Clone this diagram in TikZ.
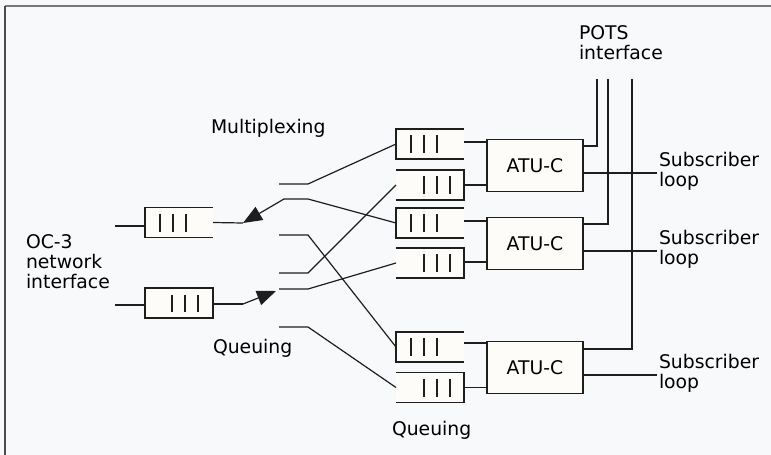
\documentclass[tikz,border=0pt]{standalone}
\usepackage{fontspec}
\setmainfont{DejaVu Sans}
\usetikzlibrary{arrows.meta}
\definecolor{bgc}{RGB}{248,249,251}
\definecolor{boxc}{RGB}{253,252,248}
\definecolor{inkc}{RGB}{30,30,30}
\definecolor{framec}{RGB}{120,120,120}
\tikzset{
  wire/.style={draw=inkc, line width=1.2pt},
  edgeln/.style={draw=inkc, line width=1.4pt},
  qfill/.style={fill=boxc, draw=none, minimum width=68pt, minimum height=30pt, inner sep=0pt, outer sep=0pt},
  atubox/.style={fill=boxc, draw=inkc, line width=1.4pt, minimum width=96pt, minimum height=52pt, inner sep=0pt, font=\lbl},
  lbl/.style={inner sep=0pt, outer sep=0pt, font=\lbl, align=left},
  arr/.style={-{Triangle[length=19pt,width=15pt]}},
}
\newcommand{\lbl}{\fontsize{18.8}{20}\selectfont}
% queue closed at left, bars at left
\newcommand{\qclosedleft}[1]{%
  \draw[edgeln] (#1.north east) -- (#1.north west) -- (#1.south west) -- (#1.south east);
  \foreach \dx in {15,28,41} \draw[edgeln] ([xshift=\dx pt, yshift=-6pt]#1.north west) -- ([xshift=\dx pt, yshift=6pt]#1.south west);
}
% queue closed at right, bars at right
\newcommand{\qclosedright}[1]{%
  \draw[edgeln] (#1.north west) -- (#1.north east) -- (#1.south east) -- (#1.south west);
  \foreach \dx in {14,27,40} \draw[edgeln] ([xshift=-\dx pt, yshift=-6pt]#1.north east) -- ([xshift=-\dx pt, yshift=6pt]#1.south east);
}
\begin{document}
\begin{tikzpicture}[x=1pt, y=-1pt]
\fill[bgc] (0,0) rectangle (771,455);
\useasboundingbox (0,0) rectangle (771,455);
% frame
\draw[framec, line width=2pt] (5,6) -- (771,6);
\draw[inkc!80, line width=1.4pt] (5,6) -- (5,455);

% left queues
\node[qfill] (ql1) at (179,222.5) {};
\node[qfill] (ql2) at (179,303) {};
\qclosedleft{ql1}
\draw[edgeln] (ql2.north west) rectangle (ql2.south east);
\foreach \dx in {15,28,41} \draw[edgeln] ([xshift=-\dx pt, yshift=-7pt]ql2.north east) -- ([xshift=-\dx pt, yshift=6pt]ql2.south east);

% right queues
\node[qfill] (qa) at (430,144) {};
\node[qfill] (qb) at (430,185) {};
\node[qfill] (qc) at (430,223) {};
\node[qfill] (qd) at (430,263) {};
\node[qfill] (qe) at (430,347) {};
\node[qfill] (qf) at (430,387.5) {};
\qclosedleft{qa}
\qclosedright{qb}
\qclosedleft{qc}
\qclosedright{qd}
\qclosedleft{qe}
\qclosedright{qf}

% ATU-C boxes
\node[atubox] (atu1) at (535,165.5) {ATU-C};
\node[atubox] (atu2) at (535,243.5) {ATU-C};
\node[atubox] (atu3) at (535,367.5) {ATU-C};

% OC-3 inputs
\coordinate (in1) at (115,226);
\coordinate (in2) at (115,305);
\draw[wire] (in1) -- (in1 -| ql1.west);
\draw[wire] (in2) -- (in2 -| ql2.west);

% multiplexer
\coordinate (o1) at (243,223);
\coordinate (o2) at (243,304);
\coordinate (tip2) at (276,291);
\draw[wire] (ql1.east) -- (o1);
\draw[wire, arr] (qc.west) -- (308,199) -- (284,199) -- (o1);
\draw[wire] (ql2.east |- o2) -- (o2);
\draw[wire, arr] (o2) -- (tip2);
\coordinate (m1) at (279,184);
\coordinate (m3) at (279,235);
\coordinate (m4) at (279,273);
\coordinate (m5) at (279,289);
\coordinate (m6) at (279,327);
\draw[wire] (m1) -- (308,184) -- (qa.west);
\draw[wire] (m3) -- (308,235) -- (qe.west);
\draw[wire] (m4) -- (308,273) -- (qb.west);
\draw[wire] (m5) -- (308,289) -- (qd.west);
\draw[wire] (m6) -- (308,327) -- (qf.west);

% queues to ATU-C
\draw[wire] ([yshift=2pt]qa.east) -- ([yshift=2pt]qa.east -| atu1.west);
\draw[wire] (qb.east) -- (qb.east -| atu1.west);
\draw[wire] ([yshift=2pt]qc.east) -- ([yshift=2pt]qc.east -| atu2.west);
\draw[wire] ([yshift=1pt]qd.east) -- ([yshift=1pt]qd.east -| atu2.west);
\draw[wire] ([yshift=4pt]qe.east) -- ([yshift=4pt]qe.east -| atu3.west);
\draw[wire] (qf.east) -- (qf.east -| atu3.west);

% POTS lines
\coordinate (p1) at (597,79);
\coordinate (p2) at (608,79);
\coordinate (p3) at (632,79);
\draw[wire] (atu1.east |- 0,146) -- (597,146) -- (p1);
\draw[wire] (atu2.east |- 0,224) -- (608,224) -- (p2);
\draw[wire] (atu3.east |- 0,349) -- (632,349) -- (p3);

% subscriber loops
\coordinate (s1) at (657,173);
\coordinate (s2) at (657,251);
\coordinate (s3) at (657,375);
\draw[wire] (atu1.east |- s1) -- (s1);
\draw[wire] (atu2.east |- s2) -- (s2);
\draw[wire] (atu3.east |- s3) -- (s3);

% labels (base anchor = baseline of the last line)
\node[lbl, anchor=base west] (tmux) at (211,133) {Multiplexing};
\node[lbl, anchor=base west] (toc3) at (26,288) {OC-3\\network\\interface};
\node[lbl, anchor=base west] (tq1) at (213,353) {Queuing};
\node[lbl, anchor=base west] (tq2) at (392,435) {Queuing};
\node[lbl, anchor=base west] (tpots) at (579,59) {POTS\\interface};
\node[lbl, anchor=base west] (tsub1) at (659,186) {Subscriber\\loop};
\node[lbl, anchor=base west] (tsub2) at (659,264) {Subscriber\\loop};
\node[lbl, anchor=base west] (tsub3) at (659,388) {Subscriber\\loop};
\end{tikzpicture}
\end{document}
